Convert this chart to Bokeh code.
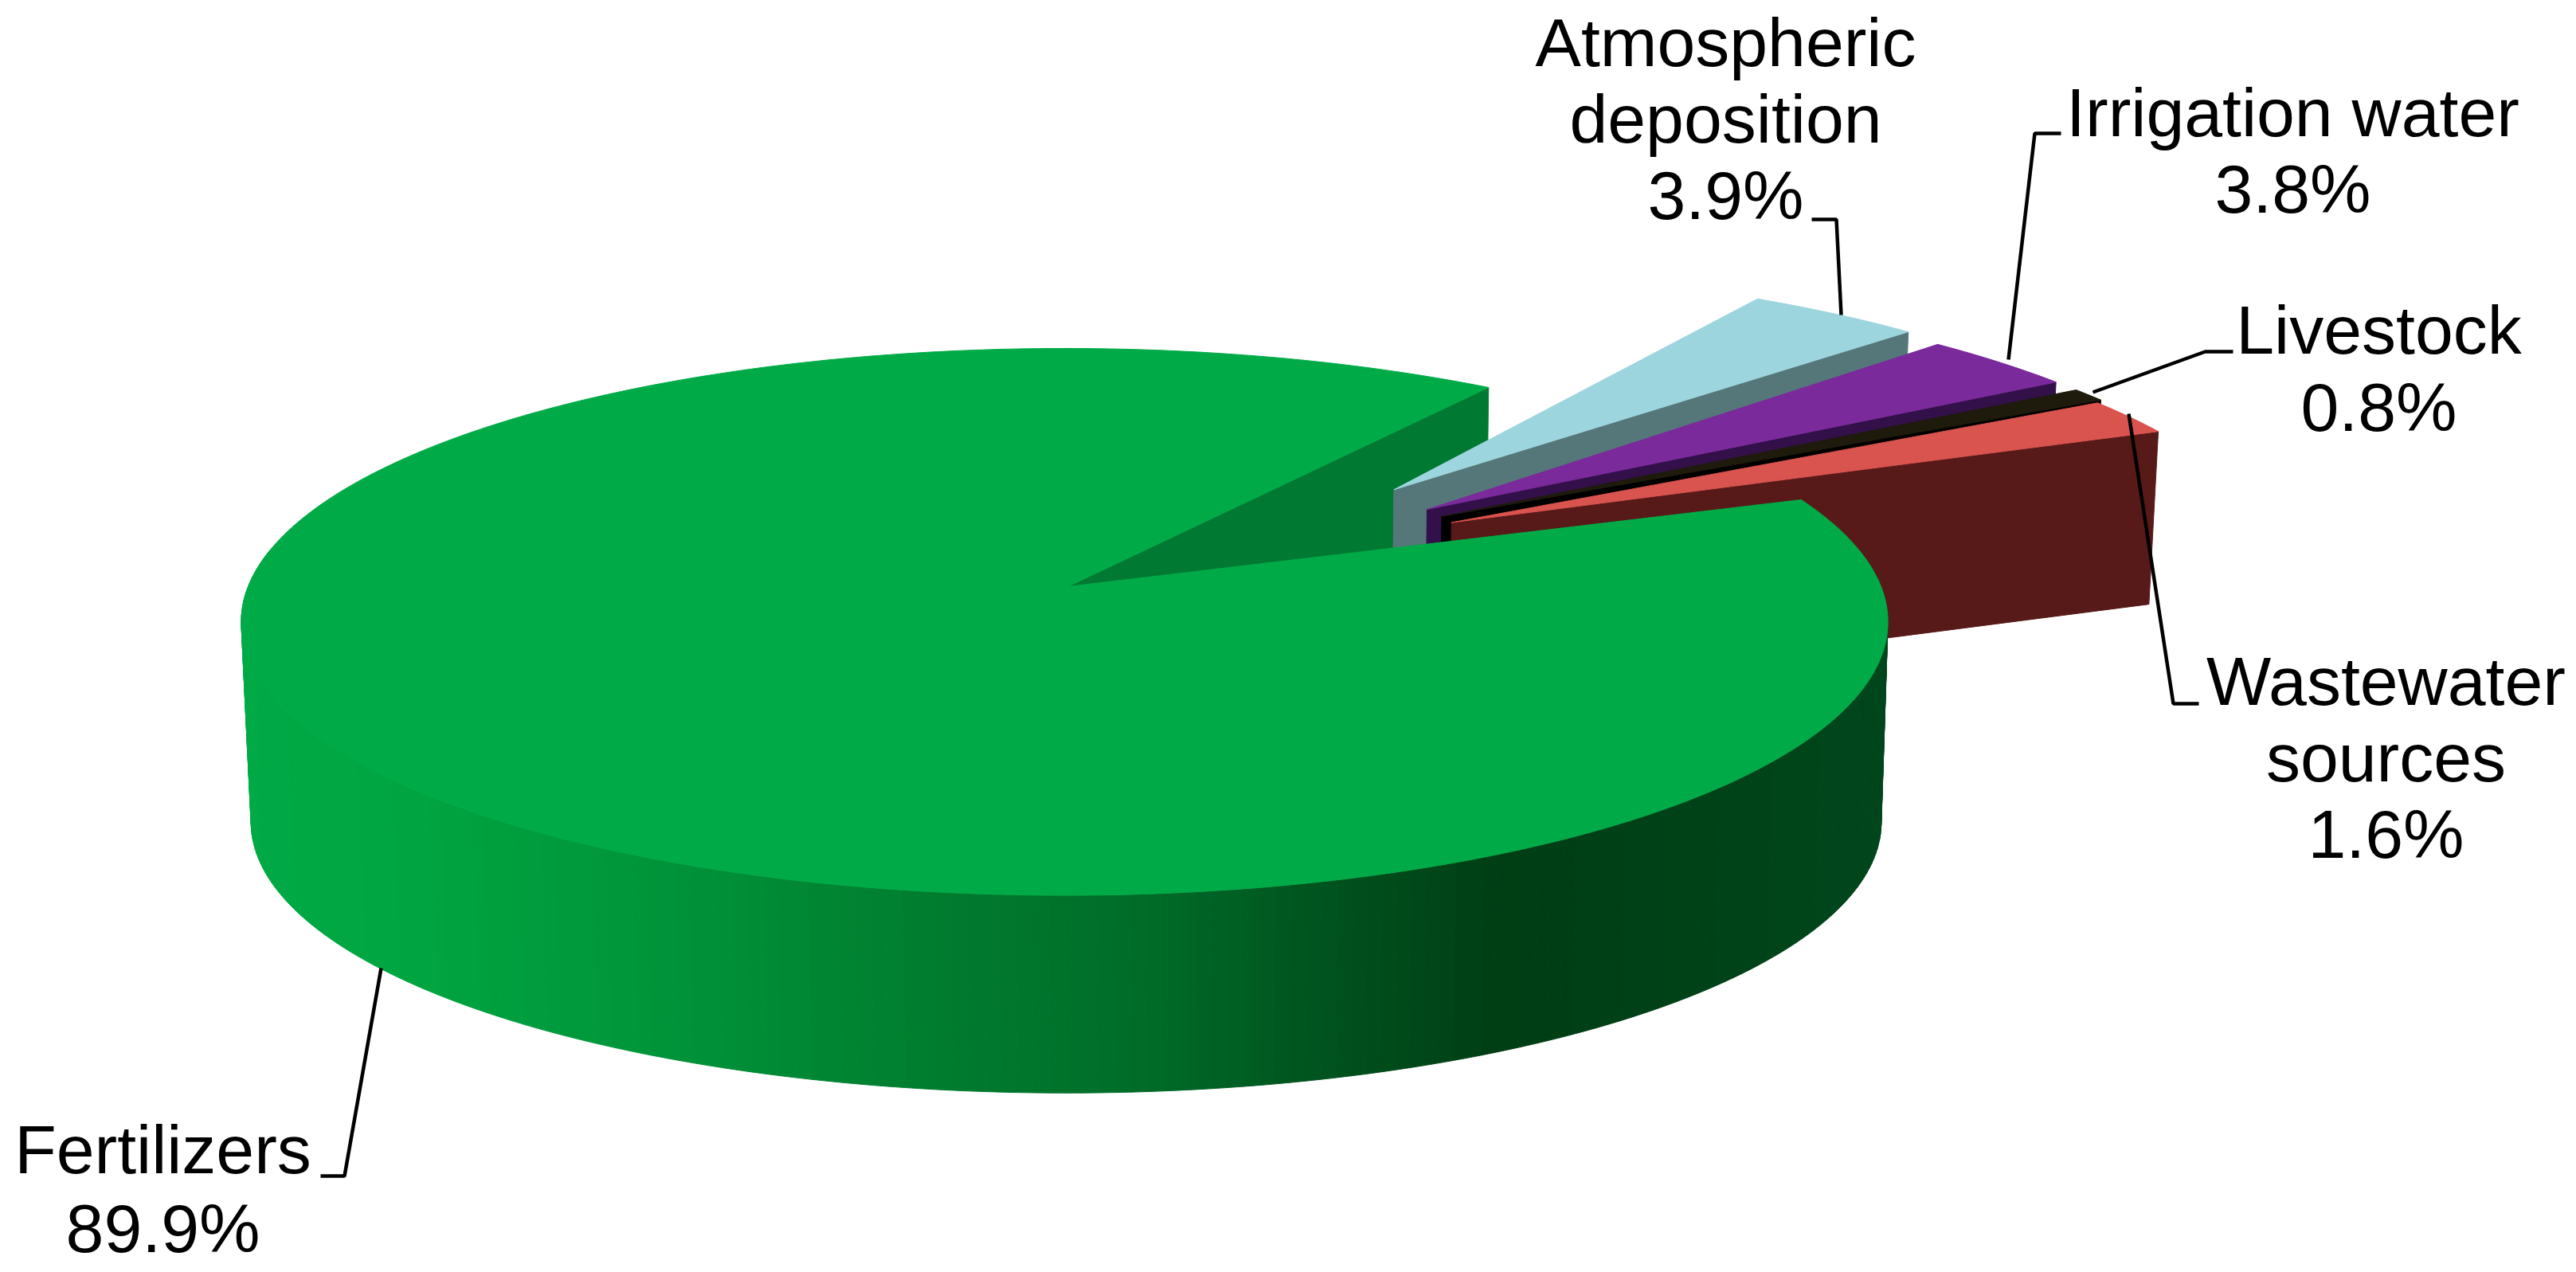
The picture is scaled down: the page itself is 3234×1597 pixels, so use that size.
import math
from bokeh.plotting import figure
from bokeh.models import Range1d
from bokeh.core.properties import value
from bokeh.embed import file_html
from bokeh.resources import INLINE

# ---- chart data ----
categories = ["Fertilizers", "Atmospheric deposition", "Irrigation water", "Livestock", "Wastewater sources"]
shares = [89.9, 3.9, 3.8, 0.8, 1.6]
label_lines = [["Fertilizers", "89.9%"], ["Atmospheric", "deposition", "3.9%"], ["Irrigation water", "3.8%"],
               ["Livestock", "0.8%"], ["Wastewater", "sources", "1.6%"]]

# ---- styling / projection parameters ----
top_colors = ["#00AB47", "#9DD5DE", "#7B2A9B", "#1E1A0C", "#D9534F"]
face_colors = ["#007A33", "#55777A", "#33104A", "#000000", "#581A18"]
explode_x = [0.0, 0.423, 0.461, 0.478, 0.489]
explode_y = [0.0, 0.378, 0.298, 0.270, 0.246]
slice_radius = [1.0, 1.03, 1.04, 1.04, 1.03]
angle_pad_lo = [0.9, 0.0, -1.0, -1.9, -2.9]
angle_pad_hi = [2.0, 0.0, -2.4, -1.9, -0.9]
gap_end_deg = 69.4

CX, CY, RX, RY, K = 1336.0, 736.0, 1025.0, 337.6, 0.129
APEX_DX = 4.0
BOT_DX, BOT_S = 2.0, 0.990
DEPTH_MAIN, DEPTH_SLICE = 252.0, 215.0

# wall shading (screen x -> rgb)
shade_x = [300, 515, 860, 1146, 1433, 1663, 1880, 2370]
shade_rgb = [(0, 170, 70), (0, 165, 65), (0, 146, 56), (0, 126, 48), (0, 108, 40), (0, 82, 30), (0, 62, 20), (0, 70, 28)]


def proj(X, Y, bottom=False, depth=0.0):
    w = 1 + K * Y
    if bottom:
        return CX + BOT_DX + BOT_S * RX * X / w, CY + depth - BOT_S * RY * Y / w
    return CX + RX * X / w, CY - RY * Y / w


def polar(a_deg, r=1.0, ex=0.0, ey=0.0):
    a = math.radians(a_deg)
    return ex + r * math.sin(a), ey + r * math.cos(a)


def shade(x):
    if x <= shade_x[0]:
        c = shade_rgb[0]
    elif x >= shade_x[-1]:
        c = shade_rgb[-1]
    else:
        for i in range(len(shade_x) - 1):
            if shade_x[i] <= x <= shade_x[i + 1]:
                t = (x - shade_x[i]) / (shade_x[i + 1] - shade_x[i])
                c = tuple(round(shade_rgb[i][j] + t * (shade_rgb[i + 1][j] - shade_rgb[i][j])) for j in range(3))
                break
    return "#%02x%02x%02x" % c


p = figure(width=3226, height=1589, x_range=Range1d(0, 3226), y_range=Range1d(1589, 0),
           toolbar_location=None, output_backend="svg", min_border=0,
           background_fill_color="white", border_fill_color="white", outline_line_color=None)
p.axis.visible = False
p.grid.visible = False

# slice angles from the shares (clockwise from the far side)
angles = []
start = gap_end_deg
for i, v in enumerate(shares):
    angles.append((start + angle_pad_lo[i], start + v * 3.6 + angle_pad_hi[i]))
    start += v * 3.6

apex_main = (CX + APEX_DX, CY)

# main slice: cut face seen through the gap
a_end = angles[0][1]
rim = polar(a_end)
pts = [apex_main, proj(*rim), proj(*rim, True, DEPTH_MAIN), proj(0, 0, True, DEPTH_MAIN)]
p.patch([q[0] for q in pts], [q[1] for q in pts], fill_color=face_colors[0], line_color=face_colors[0], line_width=1)

# exploded slices, back to front
for i in range(1, len(shares)):
    a0, a1 = angles[i]
    ex, ey, r = explode_x[i], explode_y[i], slice_radius[i]
    rim = polar(a1 - 360, r, ex, ey)
    pts = [proj(ex, ey), proj(*rim), proj(*rim, True, DEPTH_SLICE), proj(ex, ey, True, DEPTH_SLICE)]
    p.patch([q[0] for q in pts], [q[1] for q in pts], fill_color=face_colors[i], line_color=face_colors[i], line_width=1)
    n = 12
    top = [proj(ex, ey)] + [proj(*polar(a0 - 360 + (a1 - a0) * j / n, r, ex, ey)) for j in range(n + 1)]
    p.patch([q[0] for q in top], [q[1] for q in top], fill_color=top_colors[i], line_color=top_colors[i], line_width=1)

# main slice: curved wall in vertical shaded strips
xs, ys, cols = [], [], []
a = 84.0
while a < 278.0:
    t0, t1 = polar(a), polar(a + 1.0)
    q = [proj(*t0), proj(*t1), proj(*t1, True, DEPTH_MAIN), proj(*t0, True, DEPTH_MAIN)]
    xs.append([c[0] for c in q])
    ys.append([c[1] for c in q])
    cols.append(shade(sum(c[0] for c in q) / 4))
    a += 1.0
p.patches(xs, ys, fill_color=cols, line_color=cols, line_width=1)

# main slice: top surface
a0, a1 = angles[0]
n = 360
top = [apex_main] + [proj(*polar(a0 + (a1 - a0) * j / n)) for j in range(n + 1)]
p.patch([q[0] for q in top], [q[1] for q in top], fill_color=top_colors[0], line_color=top_colors[0], line_width=1)

# leaders
leaders = [
    ([402, 432, 478], [1476, 1476, 1215]),
    ([2274, 2305, 2311], [275, 275, 395]),
    ([2587, 2554, 2521], [167, 167, 451]),
    ([2803, 2768, 2627], [441, 441, 492]),
    ([2760, 2728, 2672], [883, 883, 519]),
]
for lx, ly in leaders:
    p.line(lx, ly, line_color="black", line_width=4.5)

# labels: centre x, first baseline, line spacing
label_cx = [204, 2166, 2878, 2986, 2995]
label_y0 = [1442, 52, 140, 413, 854]
label_dy = [99, 96, 96, 97, 96]
for lines, cx_, y0, dy in zip(label_lines, label_cx, label_y0, label_dy):
    p.text([cx_] * len(lines), [y0 + j * dy for j in range(len(lines))], text=lines,
           text_font=value("Liberation Sans"), text_font_size="86px", text_color="black",
           text_align="center", text_baseline="alphabetic")

open("out.html", "w").write(file_html(p, INLINE))
